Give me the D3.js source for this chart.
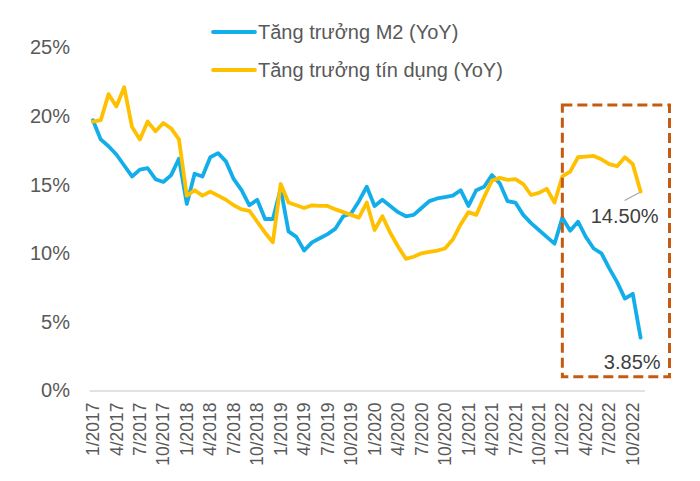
<!DOCTYPE html>
<html>
<head>
<meta charset="utf-8">
<script src="https://cdn.jsdelivr.net/npm/d3@7"></script>
<style>
  html, body { margin: 0; padding: 0; background: #fff; }
  svg { display: block; font-family: "Liberation Sans", Arial, sans-serif; }
</style>
</head>
<body>
<svg id="chart" width="700" height="481"></svg>
<script>
// ---- Data ----
const months = [];
for (let y = 2017; y <= 2022; y++) {
  for (let m = 1; m <= 12; m++) {
    if (y === 2022 && m > 11) break;
    months.push(m + "/" + y);
  }
}
const seriesNames = ["Tăng trưởng M2 (YoY)", "Tăng trưởng tín dụng (YoY)"];
const m2Growth = [
  19.7, 18.3, 17.8, 17.2, 16.4, 15.6, 16.1, 16.2, 15.4, 15.2, 15.7, 16.9,
  13.6, 15.8, 15.6, 17.0, 17.3, 16.7, 15.4, 14.6, 13.5, 13.9, 12.5, 12.5,
  14.7, 11.6, 11.2, 10.2, 10.8, 11.1, 11.4, 11.8, 12.7, 12.9, 13.8, 14.85,
  13.45, 13.9, 13.45, 13.0, 12.7, 12.8, 13.3, 13.8, 14.0, 14.1, 14.2, 14.6,
  13.45, 14.6, 14.85, 15.7, 15.1, 13.8, 13.7, 12.8, 12.2, 11.7, 11.2, 10.7,
  12.6, 11.65, 12.3, 11.2, 10.35, 10.0, 8.9, 7.9, 6.7, 7.05, 3.85
];
const creditGrowth = [
  19.6, 19.7, 21.6, 20.7, 22.1, 19.2, 18.3, 19.6, 18.9, 19.5, 19.1, 18.3,
  14.2, 14.6, 14.2, 14.5, 14.2, 13.9, 13.5, 13.2, 13.1, 12.3, 11.5, 10.8,
  15.05, 13.7, 13.5, 13.3, 13.5, 13.45, 13.45, 13.2, 13.0, 12.8, 12.6, 13.7,
  11.7, 12.7, 11.5, 10.5, 9.6, 9.75, 10.0, 10.1, 10.2, 10.35, 11.0, 12.1,
  13.0, 12.8, 14.1, 15.3, 15.5, 15.35, 15.4, 15.05, 14.25, 14.4, 14.7, 13.7,
  15.6, 15.95, 17.0, 17.05, 17.1, 16.85, 16.5, 16.35, 17.0, 16.5, 14.5
];
const yTicks = [0, 5, 10, 15, 20, 25];
const xTickLabels = months.filter((d, i) => i % 3 === 0);
const endLabels = ["14.50%", "3.85%"];
const highlightRange = ["1/2022", "11/2022"];

// ---- Layout ----
const svg = d3.select("#chart");
const colors = ["#13AEEA", "#FFC000"];
const textColor = "#595959";

const x = d3.scaleBand().domain(months).range([89, 644.5]);
const cx = d => x(d) + x.bandwidth() / 2;
const y = d3.scaleLinear().domain([0, 25]).range([390.5, 47.5]);

// Y axis labels
const yAxis = d3.axisLeft(y).tickValues(yTicks).tickFormat(d => d + "%").tickSize(0).tickPadding(0);
const gy = svg.append("g").attr("transform", "translate(70,0)").call(yAxis);
gy.select(".domain").remove();
gy.selectAll("text").attr("font-size", 20).attr("fill", textColor)
  .attr("font-family", "Liberation Sans, Arial, sans-serif");

// X axis
const xAxis = d3.axisBottom(x).tickValues(xTickLabels).tickSize(0).tickPadding(0);
const gx = svg.append("g").attr("transform", "translate(0,390.5)").call(xAxis);
gx.select(".domain").attr("stroke", "#D9D9D9").attr("stroke-width", 1.3);
gx.selectAll("text")
  .attr("font-size", 17.5).attr("fill", textColor)
  .attr("font-family", "Liberation Sans, Arial, sans-serif")
  .attr("text-anchor", "end")
  .attr("dy", "0.35em")
  .attr("transform", "translate(0,12) rotate(-90)")
  .attr("x", 0).attr("y", 0);

// Lines
const line = d3.line().x((d, i) => cx(months[i])).y(d => y(d));
[m2Growth, creditGrowth].forEach((s, k) => {
  svg.append("path").datum(s)
    .attr("fill", "none").attr("stroke", colors[k]).attr("stroke-width", 3.8)
    .attr("stroke-linejoin", "round").attr("stroke-linecap", "round")
    .attr("d", line);
});

// Highlight box
const bx0 = cx(highlightRange[0]);
const bx1 = x(highlightRange[1]) + x.bandwidth() + 25;
svg.append("rect")
  .attr("x", bx0).attr("y", y(20.8))
  .attr("width", bx1 - bx0).attr("height", y(1.0) - y(20.8))
  .attr("fill", "none").attr("stroke", "#C55A11").attr("stroke-width", 3)
  .attr("stroke-dasharray", "10,5");

// End labels
const last = months.length - 1;
const lx = cx(months[last]);
svg.append("line")
  .attr("x1", lx - 1).attr("y1", y(creditGrowth[last]) + 1)
  .attr("x2", lx - 16).attr("y2", y(creditGrowth[last]) + 9)
  .attr("stroke", "#A6A6A6").attr("stroke-width", 1.2);
svg.append("text").attr("x", lx + 18).attr("y", y(creditGrowth[last]) + 31)
  .attr("text-anchor", "end").attr("font-size", 20).attr("fill", "#404040")
  .text(endLabels[0]);
svg.append("text").attr("x", lx + 20).attr("y", y(m2Growth[last]) + 31)
  .attr("text-anchor", "end").attr("font-size", 20).attr("fill", "#404040")
  .text(endLabels[1]);

// Legend
seriesNames.forEach((name, k) => {
  const ly = 32 + k * 38;
  svg.append("line").attr("x1", 213).attr("x2", 255).attr("y1", ly).attr("y2", ly)
    .attr("stroke", colors[k]).attr("stroke-width", 3.8).attr("stroke-linecap", "round");
  svg.append("text").attr("x", 258).attr("y", ly).attr("dy", "0.35em")
    .attr("font-size", 20).attr("fill", textColor).text(name);
});
</script>
</body>
</html>
